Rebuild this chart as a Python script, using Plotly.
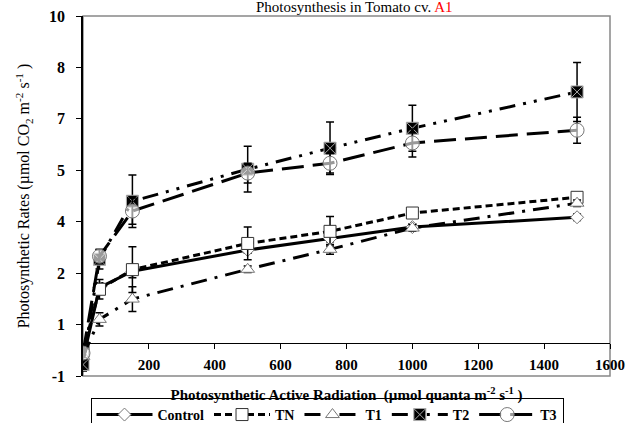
import plotly.graph_objects as go

# PAR levels (umol quanta m-2 s-1)
par = [0, 50, 150, 500, 750, 1000, 1500]

control = [-0.5, 1.7, 2.2, 2.85, 3.2, 3.55, 3.85]
control_err = [0.1, 0.15, 0.2, 0.1, 0.1, 0.1, 0.1]

tn = [-0.25, 1.65, 2.25, 3.05, 3.42, 3.98, 4.46]
tn_err = [0.15, 0.3, 0.7, 0.5, 0.45, 0.15, 0.1]

t1 = [-0.4, 0.73, 1.35, 2.26, 2.87, 3.52, 4.28]
t1_err = [0.15, 0.2, 0.38, 0.1, 0.15, 0.1, 0.1]

t2 = [-0.65, 2.57, 4.34, 5.32, 5.96, 6.57, 7.68]
t2_err = [0.2, 0.3, 0.8, 0.7, 0.8, 0.7, 0.9]

t3 = [-0.3, 2.66, 4.04, 5.2, 5.5, 6.12, 6.51]
t3_err = [0.2, 0.2, 0.4, 0.3, 0.3, 0.43, 0.4]

# the y labels in the original are oddly rounded, kept as printed
y_ticktext = ["-1", "1", "2", "4", "5", "7", "8", "10"]
x_ticks = [200, 400, 600, 800, 1000, 1200, 1400, 1600]

serif = "Liberation Serif, Times New Roman, DejaVu Serif, serif"

series = [
    ("Control", control, control_err, "solid", dict(symbol="diamond", size=10, color="white", line=dict(color="#777", width=1))),
    ("TN", tn, tn_err, "7px,4px", dict(symbol="square", size=12, color="white", line=dict(color="#333", width=1))),
    ("T1", t1, t1_err, "16px,8px,3px,8px", dict(symbol="triangle-up", size=12, color="white", line=dict(color="#777", width=1))),
    ("T2", t2, t2_err, "16px,8px,3px,8px,3px,8px", dict(symbol="square-x", size=12, color="black", line=dict(color="#aaa", width=1))),
    ("T3", t3, t3_err, "22px,9px", dict(symbol="circle", size=14, color="rgba(255,255,255,0.6)", line=dict(color="#777", width=1))),
]

fig = go.Figure()
for name, vals, err, dash, marker in series:
    fig.add_trace(go.Scatter(
        x=par, y=vals, name=name, mode="lines+markers",
        line=dict(color="black", width=3, dash=dash),
        marker=marker,
        error_y=dict(type="data", array=err, color="black", thickness=1.5, width=4),
    ))

step = 11 / 7
fig.update_layout(
    width=630, height=423,
    margin=dict(l=83, r=20, t=16, b=47, autoexpand=False),
    plot_bgcolor="white", paper_bgcolor="white",
    font=dict(family=serif, color="black"),
    legend=dict(
        orientation="h", x=0.463, xanchor="center", y=-0.061, yanchor="top",
        font=dict(family=serif, size=14, weight="bold"),
        bordercolor="black", borderwidth=1, itemwidth=56,
        tracegroupgap=0,
    ),
    xaxis=dict(
        range=[0, 1600], anchor="free", position=1 / 11,
        tickvals=x_ticks, ticks="outside", ticklen=5, tickcolor="black",
        showline=True, linecolor="black", linewidth=1,
        showgrid=False, zeroline=False, automargin=False,
        ticklabelstandoff=3, ticklabeloverflow="allow",
        tickfont=dict(family=serif, size=15, weight="bold"),
        title=dict(
            text="Photosynthetic Active Radiation  (µmol quanta m<sup>-2</sup> s<sup>-1</sup> )",
            font=dict(family=serif, size=15, weight="bold"), standoff=17,
        ),
    ),
    yaxis=dict(
        range=[-1, 10],
        tickvals=[-1 + i * step for i in range(len(y_ticktext))],
        ticktext=y_ticktext,
        ticks="outside", ticklen=5, tickcolor="black",
        showline=True, linecolor="black", linewidth=1.5,
        showgrid=False, zeroline=False, automargin=False,
        ticklabelstandoff=8,
        tickfont=dict(family=serif, size=16, weight="bold"),
        title=dict(
            text="Photosynthetic Rates (µmol CO<sub>2</sub> m<sup>-2</sup> s<sup>-1</sup> )",
            font=dict(family=serif, size=16), standoff=15,
        ),
    ),
)

# grey frame around the plot area
fig.add_shape(type="rect", xref="paper", yref="paper", x0=0, x1=1, y0=0, y1=1,
              line=dict(color="#888", width=1.5), layer="below")

fig.add_annotation(
    text="Photosynthesis in Tomato cv. <span style='color:red'>A1</span>",
    xref="paper", yref="paper", x=0.515, y=1.0, yanchor="bottom", yshift=-1,
    showarrow=False, font=dict(family=serif, size=15),
)

# drop the default 8px page margin so the figure sits at the window corner
fig.write_html("out.html", config={"displayModeBar": False},
               post_script="document.body.style.margin='0';")
